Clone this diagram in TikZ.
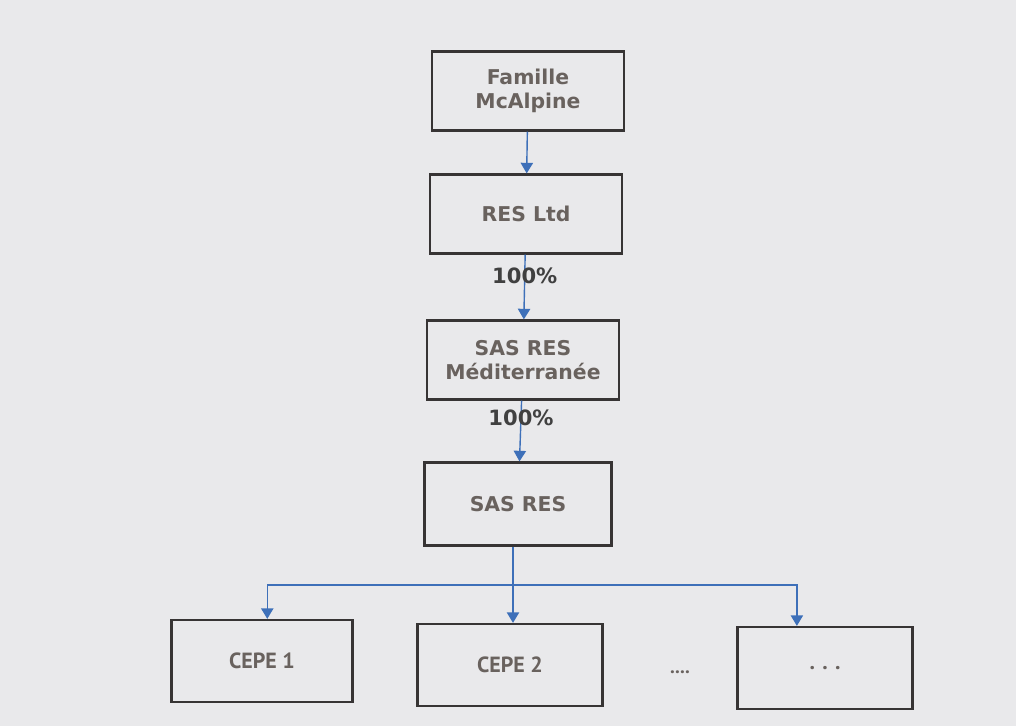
\documentclass[tikz,border=0pt]{standalone}
\usepackage{fontspec}
\setmainfont{DejaVu Sans}
\newfontfamily\leaffont{PT Sans}
\usetikzlibrary{arrows.meta}
\definecolor{boxtext}{RGB}{105,98,94}
\definecolor{boxline}{RGB}{55,52,52}
\definecolor{linkblue}{RGB}{62,112,185}
\definecolor{paper}{RGB}{233,233,235}
\begin{document}
\begin{tikzpicture}[x=0.02cm, y=-0.02cm,
    box/.style = {draw=boxline, line width=1.3pt, minimum width=3.84cm, minimum height=1.58cm, align=center, text=boxtext, font=\fontsize{11.6}{14}\selectfont\bfseries},
    leaf/.style = {draw=boxline, line width=1.3pt, minimum height=1.64cm, text=boxtext, font=\leaffont\fontsize{12.5}{14}\selectfont\bfseries},
    link/.style = {draw=linkblue, line width=0.8pt, -{Triangle[width=7pt,length=6pt]}},
    pct/.style = {text=black!75, font=\fontsize{12}{14}\selectfont\bfseries}]
    \fill[paper] (0,0) rectangle (1016,726);
    \useasboundingbox (0,0) rectangle (1016,726);
    \node[box] (fam) at (528,91) {Famille\\McAlpine};
    \node[box] (ltd) at (526,214) {RES Ltd};
    \node[box] (med) at (523,360) {SAS RES\\Méditerranée};
    \node[box, minimum width=3.74cm, minimum height=1.66cm] (sas) at (518,504) {SAS RES};
    \node[leaf, minimum width=3.62cm] (cepe1) at (262,661) {CEPE 1};
    \node[leaf, minimum width=3.7cm] (cepe2) at (510,665) {CEPE 2};
    \node[leaf, minimum width=3.5cm] (more) at (825,668) {. . .};
    \node[text=boxtext, font=\leaffont\fontsize{11}{12}\selectfont\bfseries] (gap) at (680,672) {....};
    \coordinate (split) at (513,585);
    \draw[link] (fam) -- (ltd);
    \draw[link] (ltd) -- node[pct, pos=0.32] {100\%} (med);
    \draw[link] (med) -- node[pct, pos=0.29] {100\%} (sas);
    \draw[link] (sas.south -| split) -- (cepe2.north -| split);
    \draw[link] (split) -| ([xshift=3pt]cepe1.north);
    \draw[link] (split) -| ([xshift=-16pt]more.north);
\end{tikzpicture}
\end{document}
